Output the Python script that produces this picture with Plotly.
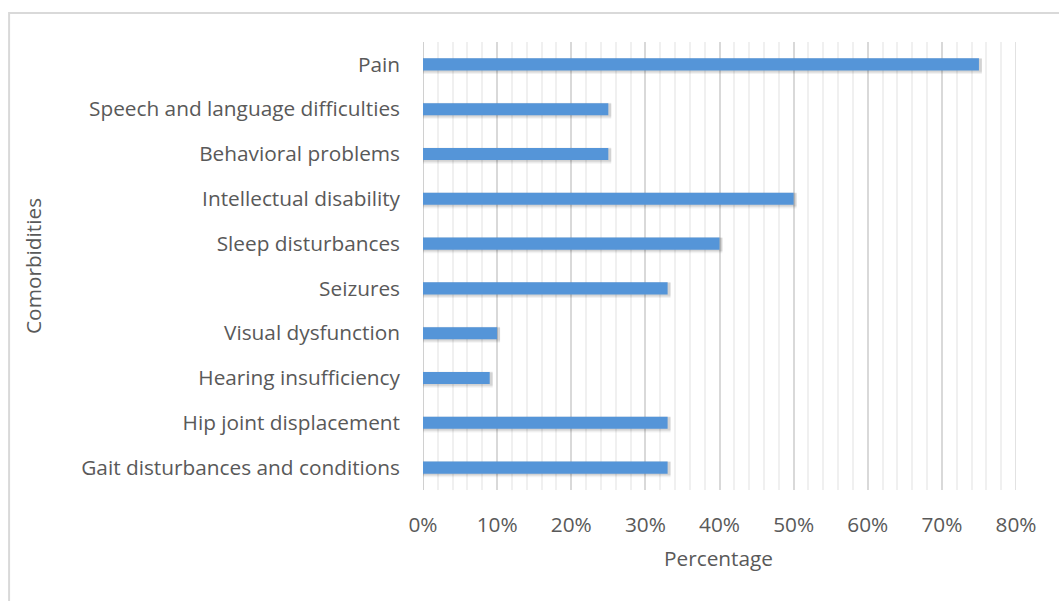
import plotly.graph_objects as go

categories = [
    "Gait disturbances and conditions",
    "Hip joint displacement",
    "Hearing insufficiency",
    "Visual dysfunction",
    "Seizures",
    "Sleep disturbances",
    "Intellectual disability",
    "Behavioral problems",
    "Speech and language difficulties",
    "Pain",
]
values = [33, 33, 9, 10, 33, 40, 50, 25, 25, 75]
x_ticks = [0, 10, 20, 30, 40, 50, 60, 70, 80]
x_tick_labels = ["0%", "10%", "20%", "30%", "40%", "50%", "60%", "70%", "80%"]
x_title = "Percentage"
y_title = "Comorbidities"

FONT = "Open Sans"
TXT = "#595959"
FS = 20.8

fig = go.Figure()
# soft blurred shadow under bars (layered translucent bars)
for w, off, a in [(0.36, -0.215, 0.05), (0.32, -0.19, 0.06), (0.29, -0.165, 0.07)]:
    fig.add_trace(go.Bar(
        y=categories, x=[v + 0.4 for v in values], orientation="h", width=w, offset=off,
        marker=dict(color=f"rgba(0,0,0,{a})", line=dict(width=0)),
        hoverinfo="skip", showlegend=False,
    ))
fig.add_trace(go.Bar(
    y=categories, x=values, orientation="h", width=0.27, offset=-0.135,
    marker=dict(color="#5595d8", line=dict(width=0)),
    showlegend=False,
))

fig.update_layout(
    width=1059, height=601,
    margin=dict(l=423, r=43, t=42, b=111),
    paper_bgcolor="white", plot_bgcolor="white",
    barmode="overlay",
    font=dict(family=FONT, color=TXT, size=FS),
    xaxis=dict(
        range=[0, 80], tickvals=x_ticks, ticktext=x_tick_labels,
        showgrid=True, gridcolor="#d9d9d9", gridwidth=1.5,
        minor=dict(dtick=2, showgrid=True, gridcolor="#f0f0f0", gridwidth=1.5),
        zeroline=False, showline=False,
        ticks="", ticklabelstandoff=20,
        tickfont=dict(size=FS, color=TXT, family=FONT),
    ),
    yaxis=dict(
        showgrid=False, zeroline=False, showline=False, ticks="",
        ticklabelstandoff=22, range=[-0.5, 9.5],
        tickfont=dict(size=FS, color=TXT, family=FONT),
    ),
    annotations=[
        dict(text=x_title, xref="paper", yref="paper", x=0.499, y=-0.152,
             showarrow=False, xanchor="center", yanchor="middle",
             font=dict(size=FS, color=TXT, family=FONT)),
        dict(text=y_title, xref="paper", yref="paper", x=-0.6577, y=0.5,
             showarrow=False, xanchor="center", yanchor="middle", textangle=-90,
             font=dict(size=FS, color=TXT, family=FONT)),
    ],
    shapes=[
        dict(type="rect", xref="paper", yref="paper", x0=-0.698, y0=-0.4,
             x1=1.2, y1=1.0647, line=dict(color="#d9d9d9", width=2),
             fillcolor="rgba(0,0,0,0)", layer="below"),
        dict(type="line", xref="x", yref="paper", x0=0, x1=0, y0=0, y1=1,
             line=dict(color="#d0d0d0", width=2), layer="below"),
        dict(type="line", xref="x", yref="paper", x0=80, x1=80, y0=0, y1=1,
             line=dict(color="#d9d9d9", width=1.5), layer="below"),
    ],
)

fig.write_html("out.html")
